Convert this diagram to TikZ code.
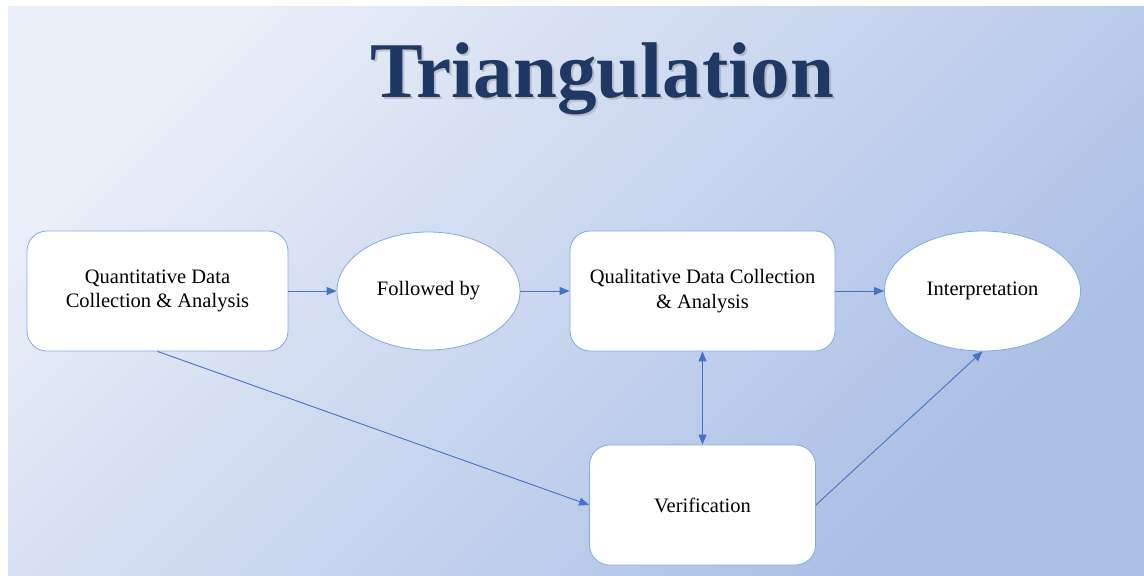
\documentclass[tikz,border=0pt]{standalone}
\usepackage{fontspec}
\setmainfont{Liberation Serif}
\usetikzlibrary{shapes.geometric,arrows.meta,positioning}

\definecolor{bgtop}{HTML}{E9EEF8}
\definecolor{bgbot}{HTML}{A9BDE5}
\definecolor{rimblue}{HTML}{82AAE2}
\definecolor{arrowblue}{HTML}{4472C4}
\definecolor{titleblue}{HTML}{1F3864}

\begin{document}
\begin{tikzpicture}[%
    x=1pt, y=1pt,
    >={Triangle[length=10pt,width=8pt]},
    node distance=271pt,
    on grid,
    box/.style={rectangle, draw=rimblue, line width=0.8pt, fill=white,
      rounded corners=20pt, minimum height=120pt, align=center,
      font=\fontsize{20.5}{24.5}\selectfont},
    oval/.style={ellipse, draw=rimblue, line width=0.8pt, fill=white,
      minimum height=118pt, inner sep=0pt, align=center,
      font=\fontsize{20.5}{24.5}\selectfont},
    link/.style={->, color=arrowblue, line width=0.9pt}
  ]
  \useasboundingbox (0,0) rectangle (1144,-576);
  \shade[top color=bgtop, bottom color=bgbot, shading angle=45]
    (8,-6) rectangle (1144,-576);

  % heading with a soft drop shadow
  \node[anchor=base, text=black!50, opacity=0.35,
    font=\fontsize{79}{90}\selectfont\bfseries] (ttlsh) at (604,-99) {Triangulation};
  \node[anchor=base, text=titleblue,
    font=\fontsize{79}{90}\selectfont\bfseries] (ttl) at (602,-97) {Triangulation};

  \node[box, minimum width=261pt] (qnt) at (157.5,-291) {Quantitative Data\\Collection \& Analysis};
  \node[oval, minimum width=183pt] (fol) [right=271pt of qnt] {Followed by};
  \node[box, minimum width=265pt] (qul) [right=274pt of fol] {Qualitative Data Collection\\\& Analysis};
  \node[oval, minimum width=196pt, minimum height=120pt] (itp) [right=280pt of qul] {Interpretation};
  \node[box, minimum width=226pt] (ver) [below=214pt of qul] {Verification};

  \path (qnt) edge[link] (fol);
  \path (fol) edge[link] (qul);
  \path (qul) edge[link] (itp);
  \path (qul) edge[link, <->] (ver);
  \path (qnt.south) edge[link] (ver.west);
  \path (ver.east) edge[link] (itp.south);
\end{tikzpicture}
\end{document}
